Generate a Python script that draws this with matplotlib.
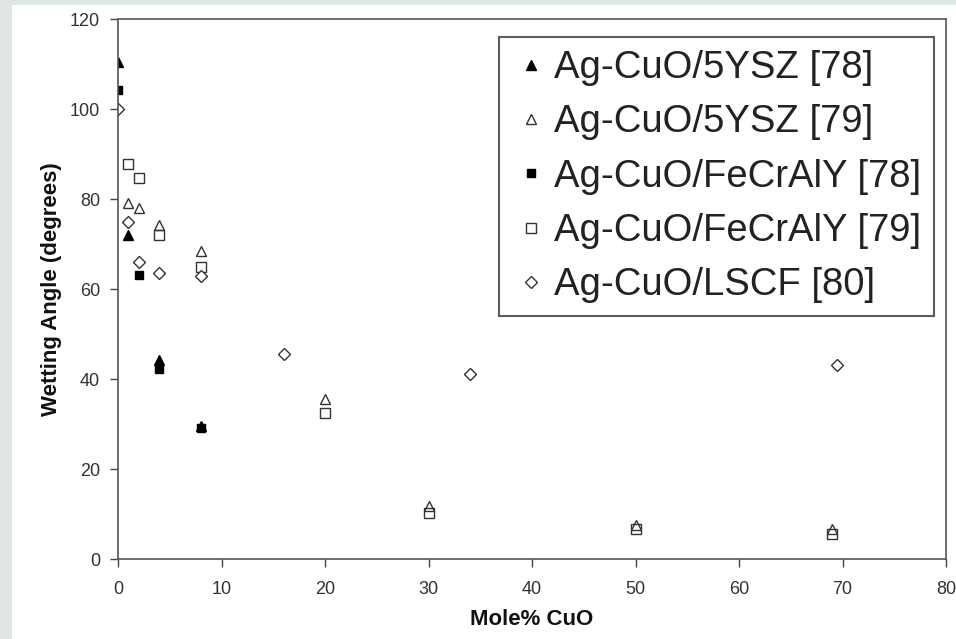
import matplotlib
matplotlib.use('Agg')
import matplotlib.pyplot as plt
from matplotlib.patches import Rectangle

plt.rcParams['font.family'] = ['Liberation Sans', 'DejaVu Sans']

# Ag-CuO/5YSZ [78]
ysz78_x = [0, 1, 4, 8]
ysz78_y = [110.5, 72, 44.3, 29.5]
# Ag-CuO/5YSZ [79]
ysz79_x = [1, 2, 4, 8, 20, 30, 50, 69]
ysz79_y = [79.2, 78, 74.2, 68.4, 35.5, 11.7, 7.6, 6.6]
# Ag-CuO/FeCrAlY [78]
fcy78_x = [0, 2, 4, 8]
fcy78_y = [104.2, 63.1, 42.2, 29.1]
# Ag-CuO/FeCrAlY [79]
fcy79_x = [1, 2, 4, 8, 20, 30, 50, 69]
fcy79_y = [87.8, 84.6, 72, 64.8, 32.4, 10.2, 6.6, 5.5]
# Ag-CuO/LSCF [80]
lscf_x = [0, 1, 2, 4, 8, 16, 34, 69.5]
lscf_y = [100, 75, 66, 63.5, 63, 45.5, 41.1, 43.2]

fig = plt.figure(figsize=(9.56, 6.39), dpi=100)
fig.patch.set_facecolor('white')
# grey frame from the screenshot
fig.patches.append(Rectangle((0, 0), 12/956, 1, transform=fig.transFigure,
                             facecolor='#dfe4e4', edgecolor='none', zorder=0))
fig.patches.append(Rectangle((0, 1 - 5/639), 1, 5/639, transform=fig.transFigure,
                             facecolor='#dfe4e4', edgecolor='none', zorder=0))

ax = fig.add_axes([118/956, 1 - 559/639, 828/956, 540/639])

ms = 7
ax.plot(ysz78_x, ysz78_y, linestyle='none', marker='^', ms=ms, mfc='black', mec='black',
        label='Ag-CuO/5YSZ [78]')
ax.plot(ysz79_x, ysz79_y, linestyle='none', marker='^', ms=ms, mfc='white', mec='#333333',
        mew=1, label='Ag-CuO/5YSZ [79]')
ax.plot(fcy78_x, fcy78_y, linestyle='none', marker='s', ms=ms - 1.5, mfc='black', mec='black',
        label='Ag-CuO/FeCrAlY [78]')
ax.plot(fcy79_x, fcy79_y, linestyle='none', marker='s', ms=ms, mfc='none', mec='#333333',
        mew=1, label='Ag-CuO/FeCrAlY [79]')
ax.plot(lscf_x, lscf_y, linestyle='none', marker='D', ms=ms - 1, mfc='white', mec='#333333',
        mew=1, label='Ag-CuO/LSCF [80]')

ax.set_xlim(0, 80)
ax.set_ylim(0, 120)
ax.set_xticks(range(0, 81, 10))
ax.set_yticks(range(0, 121, 20))
ax.tick_params(direction='out', length=6, width=1, colors='#444444', labelsize=13,
               labelcolor='#333333')
ax.tick_params(axis='x', pad=10)
ax.tick_params(axis='y', pad=7)
for s in ax.spines.values():
    s.set_color('#555555')
    s.set_linewidth(1.2)

ax.set_xlabel('Mole% CuO', fontsize=16, fontweight='bold', color='#111111')
ax.set_ylabel('Wetting Angle (degrees)', fontsize=16, fontweight='bold', color='#111111')
ax.xaxis.set_label_coords(0.5, -0.092)
ax.yaxis.set_label_coords(-0.068, 0.5)

leg = ax.legend(loc='upper right', bbox_to_anchor=(0.9855, 0.9667), fontsize=27.5,
                frameon=True, fancybox=False, edgecolor='#333333', handletextpad=0.1,
                labelspacing=0.48, borderpad=0.34, borderaxespad=0, handlelength=1.0,
                markerscale=1.0)
leg.get_frame().set_linewidth(1.5)
for t in leg.get_texts():
    t.set_color('#222222')

fig.savefig('out.png', dpi=100)
